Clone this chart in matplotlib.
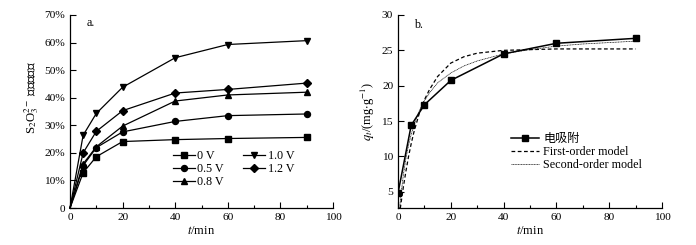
import matplotlib
matplotlib.use("Agg")
import matplotlib.pyplot as plt
from matplotlib.ticker import MultipleLocator, FuncFormatter

plt.rcParams['font.family'] = ['Liberation Serif', 'Noto Sans CJK SC', 'DejaVu Sans']
plt.rcParams['mathtext.fontset'] = 'stix'

# ---- Panel a data ----
t_a = [0, 5, 10, 20, 40, 60, 90]
v0 = [0, 12.8, 18.6, 24.1, 24.8, 25.2, 25.6]
v05 = [0, 15.4, 21.9, 27.6, 31.4, 33.5, 34.1]
v08 = [0, 16.0, 22.2, 29.7, 38.8, 41.0, 42.0]
v10 = [0, 26.4, 34.3, 43.8, 54.5, 59.3, 60.7]
v12 = [0, 20.0, 27.8, 35.3, 41.7, 43.0, 45.3]
labels_a = ['0 V', '0.5 V', '0.8 V', '1.0 V', '1.2 V']

# ---- Panel b data ----
t_b = [0, 5, 10, 20, 40, 60, 90]
q_exp = [4.8, 14.4, 17.3, 20.75, 24.5, 26.0, 26.7]
t_m = [0, 1, 2, 3, 4, 5, 6, 8, 10, 12, 15, 20, 25, 30, 40, 50, 60, 70, 80, 90]
q_first = [0, 3.0, 5.6, 7.9, 10.0, 11.8, 13.4, 16.0, 18.0, 19.5, 21.3, 23.2, 24.1,
           24.6, 25.0, 25.1, 25.2, 25.2, 25.2, 25.2]
q_second = [0, 4.2, 7.3, 9.7, 11.6, 13.1, 14.4, 16.4, 17.9, 19.0, 20.4, 21.8, 22.8,
            23.5, 24.5, 25.1, 25.6, 25.9, 26.1, 26.3]

FS = 8.2

fig = plt.figure(figsize=(6.96, 2.45), dpi=100)
axa = fig.add_axes([70/696, 37/245, 263/696, 193/245])
axb = fig.add_axes([398/696, 37/245, 264/696, 193/245])

def style(ax):
    for s in ['top', 'right']:
        ax.spines[s].set_visible(False)
    for s in ['left', 'bottom']:
        ax.spines[s].set_linewidth(0.9)
    ax.tick_params(direction='in', length=4, width=0.8, labelsize=FS, pad=3.5)
    ax.tick_params(which='minor', direction='in', length=2.5, width=0.8)
    ax.xaxis.set_major_locator(MultipleLocator(20))
    ax.xaxis.set_minor_locator(MultipleLocator(10))
    ax.set_xlim(0, 100)

lw = 0.9
ms = 4.3
series = [(v0, 's'), (v05, 'o'), (v08, '^'), (v10, 'v'), (v12, 'D')]
for (vals, mk), lab in zip(series, labels_a):
    axa.plot(t_a, vals, color='black', lw=lw, marker=mk, markevery=list(range(1, len(t_a))),
             ms=ms if mk != 'D' else 3.8, label=lab, clip_on=False)
style(axa)
axa.set_ylim(0, 70)
axa.yaxis.set_major_locator(MultipleLocator(10))
axa.yaxis.set_major_formatter(FuncFormatter(lambda v, p: '0' if v == 0 else f'{int(v)}%'))
axa.set_xlabel('$t$/min', fontsize=FS + 0.8, labelpad=2)
axa.set_ylabel('S$_2$O$_3^{2-}$ 离子去除率', fontsize=9.2)
axa.yaxis.set_label_coords(-0.112, 0.57)
axa.text(6.5, 67, 'a.', fontsize=FS + 0.5, va='center')
axa.legend(ncol=2, loc='upper left', bbox_to_anchor=(0.388, 0.308), frameon=False,
           fontsize=FS + 0.5, handlelength=1.8, handletextpad=0.2, columnspacing=1.6,
           labelspacing=0.1, borderpad=0.1, borderaxespad=0)

axb.plot(t_b, q_exp, color='black', lw=1.1, marker='s', ms=ms, label='电吸附', clip_on=True)
axb.plot(t_m, q_first, color='black', lw=0.9, ls=(0, (3, 2)), label='First-order model')
axb.plot(t_m, q_second, color='black', lw=0.5, ls=(0, (1.5, 0.8)), label='Second-order model')
style(axb)
axb.set_ylim(2.7, 30)
axb.yaxis.set_major_locator(MultipleLocator(5))
axb.set_xlabel('$t$/min', fontsize=FS + 0.8, labelpad=2)
axb.set_ylabel('$q_t$/(mg$\\cdot$g$^{-1}$)', fontsize=FS + 0.8, labelpad=3)
axb.text(6, 28.6, 'b.', fontsize=FS + 0.5, va='center')
axb.legend(loc='upper left', bbox_to_anchor=(0.424, 0.396), frameon=False, fontsize=FS + 0.5,
           handlelength=2.3, handletextpad=0.35, labelspacing=0.1, borderpad=0.1,
           borderaxespad=0)

fig.savefig('out.png', dpi=100)
